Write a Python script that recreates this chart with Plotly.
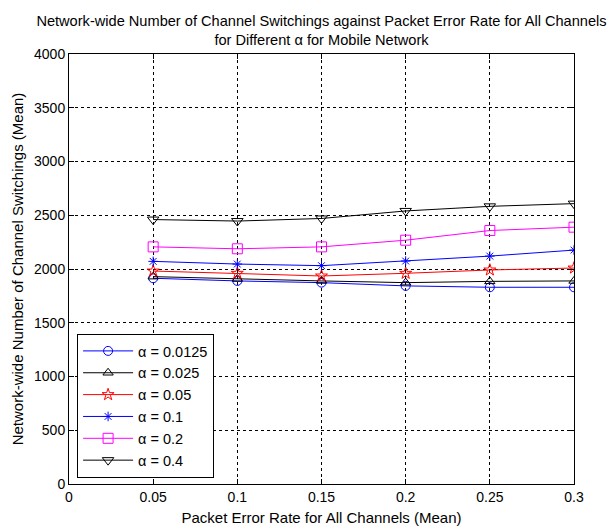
import plotly.graph_objects as go

x = [0.05, 0.1, 0.15, 0.2, 0.25, 0.3]
labels = ["α = 0.0125", "α = 0.025", "α = 0.05", "α = 0.1", "α = 0.2", "α = 0.4"]
a_0125 = [1914, 1889, 1873, 1843, 1830, 1830]
a_025 = [1929, 1907, 1889, 1873, 1885, 1889]
a_05 = [1981, 1960, 1935, 1960, 1991, 2009]
a_1 = [2071, 2046, 2031, 2074, 2120, 2176]
a_2 = [2206, 2188, 2206, 2268, 2358, 2389]
a_4 = [2460, 2446, 2470, 2540, 2583, 2608]

series = [a_0125, a_025, a_05, a_1, a_2, a_4]
colors = ["#0000ff", "#000000", "#ff0000", "#0000ff", "#ff00ff", "#000000"]
symbols = ["circle-open", "triangle-up-open", "star-open", "asterisk-open", "square-open", "triangle-down-open"]
sizes = [9, 9, 9, 8, 10, 10]

fig = go.Figure()
for ys, lab, c, s, sz in zip(series, labels, colors, symbols, sizes):
    fig.add_trace(go.Scatter(x=x, y=ys, name=lab, mode="lines+markers",
                             line=dict(color=c, width=1),
                             marker=dict(symbol=s, size=sz, color=c, line=dict(color=c, width=1))))

font = "Liberation Sans, Arial, sans-serif"
axis_common = dict(showline=True, linecolor="black", linewidth=1, mirror="ticks",
                   ticks="inside", ticklen=5, tickcolor="black",
                   showgrid=True, gridcolor="black", griddash="dot", gridwidth=1,
                   zeroline=False, automargin=False,
                   tickfont=dict(size=14, color="black", family=font))

# page body has an 8px margin, so the figure is sized/offset accordingly
fig.update_layout(
    width=608, height=522,
    paper_bgcolor="white", plot_bgcolor="white",
    margin=dict(l=61, r=42, t=46, b=46),
    font=dict(family=font, size=14, color="black"),
    title=dict(text="Network-wide Number of Channel Switchings against Packet Error Rate for All Channels<br>for Different α for Mobile Network",
               x=0.5, xref="paper", xanchor="center", y=1 - 18 / 522, yref="container", yanchor="middle",
               font=dict(size=14.6, family=font, color="black")),
    xaxis=dict(range=[0, 0.3], tickvals=[0, 0.05, 0.1, 0.15, 0.2, 0.25, 0.3],
               ticktext=["0", "0.05", "0.1", "0.15", "0.2", "0.25", "0.3"],
               title=dict(text="Packet Error Rate for All Channels (Mean)", standoff=8,
                          font=dict(size=15, family=font)), **axis_common),
    yaxis=dict(range=[0, 4000], tickvals=list(range(0, 4001, 500)),
               title=dict(text="Network-wide Number of Channel Switchings (Mean)", standoff=6,
                          font=dict(size=15, family=font)), **axis_common),
    legend=dict(x=0.016, y=0.014, xanchor="left", yanchor="bottom",
                bgcolor="white", bordercolor="black", borderwidth=1,
                font=dict(size=14.5, family=font, color="black"),
                itemwidth=50, tracegroupgap=0),
    showlegend=True,
)

fig.write_html("out.html")
